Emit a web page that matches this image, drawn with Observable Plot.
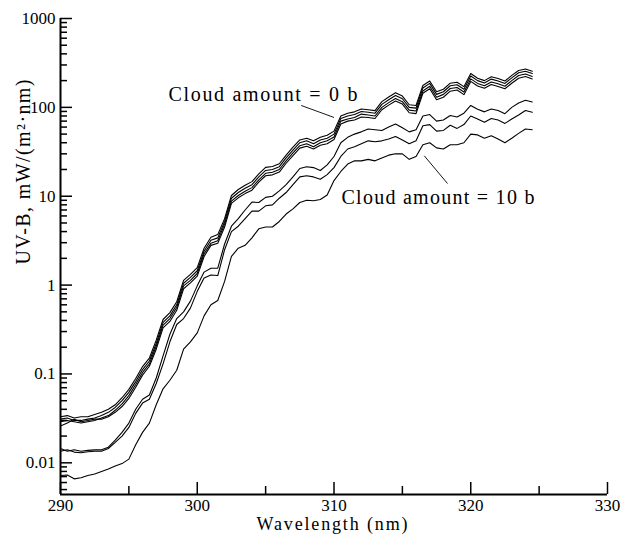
<!DOCTYPE html>
<html><head><meta charset="utf-8">
<script src="https://cdn.jsdelivr.net/npm/d3@7"></script>
<script src="https://cdn.jsdelivr.net/npm/@observablehq/plot@0.6"></script>
<style>
html,body{margin:0;padding:0;background:#fff;}
#chart svg{display:block;}
#chart svg, #chart svg text{font-family:"Liberation Serif","Times New Roman",Tinos,"DejaVu Serif",serif !important;}
</style></head><body><div id="chart"></div>
<script>
const wavelengths = [290,290.5,291,291.5,292,292.5,293,293.5,294,294.5,
  295,295.5,296,296.5,297,297.5,298,298.5,299,299.5,
  300,300.5,301,301.5,302,302.5,303,303.5,304,304.5,
  305,305.5,306,306.5,307,307.5,308,308.5,309,309.5,
  310,310.5,311,311.5,312,312.5,313,313.5,314,314.5,
  315,315.5,316,316.5,317,317.5,318,318.5,319,319.5,
  320,320.5,321,321.5,322,322.5,323,323.5,324,324.5];

// Cloud amount = 0 b (four close curves)
const clear1 = [0.033,0.034,0.032,0.033,0.033,0.035,0.037,0.040,0.045,0.054,
  0.067,0.089,0.121,0.151,0.24,0.41,0.49,0.65,1.13,1.32,
  1.57,2.6,3.45,3.7,5.6,10.2,11.9,13.3,14.6,17.8,
  21.1,21.6,23.2,29,35.6,43,45,42,46,48.5,
  54,80,86,89,96,94,92,116,131,146,
  134,107,105,176,198,150,160,187,192,171,
  240,213,200,221,211,198,229,260,270,255];
const clear2 = [0.031,0.032,0.030,0.030,0.031,0.032,0.034,0.037,0.042,0.050,
  0.062,0.082,0.112,0.140,0.22,0.38,0.45,0.60,1.05,1.22,
  1.45,2.4,3.2,3.4,5.2,9.5,11.0,12.3,13.5,16.5,
  19.5,20.0,21.5,27,33,40,42,39,43,45,
  50,75,80,83,90,88,86,108,122,136,
  125,100,98,165,186,140,150,175,180,160,
  225,200,188,208,198,186,215,245,255,240];
const clear3 = [0.029,0.030,0.029,0.028,0.029,0.030,0.032,0.034,0.039,0.046,
  0.057,0.076,0.104,0.130,0.205,0.355,0.42,0.56,0.98,1.13,
  1.35,2.25,2.95,3.15,4.85,8.8,10.2,11.4,12.5,15.3,
  18.1,18.6,20,25,30.7,37,39,36,40,42,
  46.5,70,74,77,84,82,80,100,113,126,
  116,93,91,153,173,130,140,163,167,149,
  209,186,175,193,184,173,200,228,237,223];
const clear4 = [0.026,0.028,0.031,0.029,0.030,0.031,0.031,0.033,0.037,0.043,
  0.053,0.071,0.097,0.122,0.19,0.33,0.39,0.52,0.91,1.06,
  1.26,2.1,2.8,2.95,4.5,8.3,9.6,10.7,11.7,14.4,
  17.0,17.4,18.7,23.5,28.7,34.8,36.5,34,37.4,39,
  43.5,65,70,72,78,77,75,94,106,118,
  109,87,85,144,162,122,130,152,157,139,
  196,174,164,181,172,162,187,213,222,209];
// intermediate cloud amounts
const mid1 = [0.0145,0.0135,0.0140,0.0135,0.0138,0.0140,0.0140,0.0150,0.018,0.022,
  0.028,0.040,0.052,0.058,0.090,0.16,0.28,0.42,0.50,0.66,
  0.98,1.40,1.55,1.55,2.9,4.6,5.6,7.0,8.6,8.5,
  9.7,10.0,11.5,13.5,16.5,20.5,21.5,21,19.5,22.5,
  28,40,46,50,53,57,56,55,60,65,
  59,53,56,80,83,70,72,81,78,86,
  105,95,89,96,92,85,100,112,120,115];
const mid2 = [0.0135,0.0140,0.0132,0.0130,0.0133,0.0135,0.0135,0.0145,0.017,0.020,
  0.025,0.036,0.047,0.052,0.078,0.13,0.23,0.36,0.42,0.55,
  0.85,1.20,1.30,1.28,2.5,4.0,4.6,5.6,6.8,6.8,
  7.8,8.0,9.5,11.0,13.5,16.5,17,16.5,15.5,17.5,
  21,28,34,36,39,42,41,42,44,47,
  43,39,42,62,64,54,55,63,58,64,
  80,74,68,75,72,66,74,82,92,88];
// Cloud amount = 10 b
const overcast = [0.0072,0.0073,0.0066,0.0068,0.0072,0.0075,0.0080,0.0085,0.0092,0.0098,
  0.011,0.016,0.022,0.028,0.045,0.068,0.085,0.11,0.19,0.23,
  0.29,0.45,0.60,0.67,1.1,2.1,2.6,2.8,3.4,4.3,
  4.5,4.5,5.2,6.3,7.2,8.5,9.0,8.9,9.2,10.3,
  15,19,23,25,25,26,25,27,29,30,
  30,26,28,38,40,35,34,38,38,40,
  50,49,45,48,44,40,45,51,57,56];

const seriesNames = ["clear1","clear2","clear3","clear4","mid1","mid2","overcast"];
const seriesValues = [clear1,clear2,clear3,clear4,mid1,mid2,overcast];

const xDomain = [290, 330];
const yDomain = [0.0044, 1000];
const xMajorTicks = [290,300,310,320,330];
const xMinorTicks = [295,305,315,325];
const yMajorTicks = [0.01,0.1,1,10,100,1000];
const yTickLabels = ["0.01","0.1","1","10","100","1000"];
const yMinorTicks = [0.005,0.006,0.007,0.008,0.009,
  0.02,0.03,0.04,0.05,0.06,0.07,0.08,0.09,
  0.2,0.3,0.4,0.5,0.6,0.7,0.8,0.9,
  2,3,4,5,6,7,8,9,
  20,30,40,50,60,70,80,90,
  200,300,400,500,600,700,800,900];

const xLabel = "Wavelength (nm)";
const yLabel = "UV-B, mW/(m²·nm)";
const annotations = [
  {text:"Cloud amount = 0 b", x:304.8, y:140},
  {text:"Cloud amount = 10 b", x:317.6, y:9.7}
];
const leaders = [
  {x1:307.6, y1:105, x2:310.0, y2:77},
  {x1:316.6, y1:28.5, x2:318.3, y2:13.9}
];

const rows = [];
seriesNames.forEach((name, s) => {
  seriesValues[s].forEach((v, i) => rows.push({name, wl: wavelengths[i], v}));
});

const serif = "'Liberation Serif', 'Times New Roman', Tinos, 'DejaVu Serif', serif";
const chart = Plot.plot({
  width: 624, height: 535,
  marginLeft: 60, marginRight: 17, marginTop: 18, marginBottom: 41,
  style: {fontFamily: serif, fontSize: "17px", color: "#000", background: "#fff"},
  x: {domain: xDomain},
  y: {type: "log", domain: yDomain},
  marks: [
    Plot.line(rows, {x: "wl", y: "v", z: "name", stroke: "#000", strokeWidth: 1.1, curve: "linear"}),
    Plot.link(leaders, {x1: "x1", y1: "y1", x2: "x2", y2: "y2", stroke: "#000", strokeWidth: 0.9}),
    Plot.text(annotations, {x: "x", y: "y", text: "text", fontSize: 20, fontFamily: serif, textAnchor: "middle", lineAnchor: "middle", fill: "#000"}),
    Plot.axisX(xMajorTicks, {tickSize: -12, tickFormat: () => "", label: null, strokeWidth: 1.5}),
    Plot.axisX(xMinorTicks, {tickSize: -8, tickFormat: () => "", label: null, strokeWidth: 1.5}),
    Plot.axisX(xMajorTicks, {tickSize: 0, tickPadding: 4, tickFormat: d => String(d), label: null, fontSize: 17, fontFamily: serif}),
    Plot.axisY(yMajorTicks, {tickSize: -12, tickFormat: () => "", label: null, strokeWidth: 1.5}),
    Plot.axisY(yMinorTicks, {tickSize: -7, tickFormat: () => "", label: null, strokeWidth: 1.5}),
    Plot.axisY(yMajorTicks, {tickSize: 0, tickPadding: 5, tickFormat: d => yTickLabels[yMajorTicks.indexOf(d)], label: null, fontSize: 17, fontFamily: serif}),
    Plot.ruleX([xDomain[0]], {stroke: "#000", strokeWidth: 2}),
    Plot.ruleY([yDomain[0]], {stroke: "#000", strokeWidth: 2}),
    Plot.text([xLabel], {frameAnchor: "bottom", text: d => d, dy: 30, dx: -2, lineAnchor: "middle", fontSize: 18, fontFamily: serif}),
    Plot.text([yLabel], {frameAnchor: "left", text: d => d, dx: -37, dy: 8, rotate: -90, lineAnchor: "middle", fontSize: 20, fontFamily: serif})
  ]
});
// stretch the spaced-out labels to the widths seen in the reference
const targetLengths = new Map([
  ["Cloud amount = 0 b", 189], ["Cloud amount = 10 b", 193],
  [xLabel, 151], [yLabel, 185]
]);
chart.querySelectorAll("text").forEach(t => {
  const L = targetLengths.get(t.textContent);
  if (L) { t.setAttribute("textLength", L); t.setAttribute("lengthAdjust", "spacing"); }
});
document.getElementById("chart").appendChild(chart);
</script>
</body></html>
